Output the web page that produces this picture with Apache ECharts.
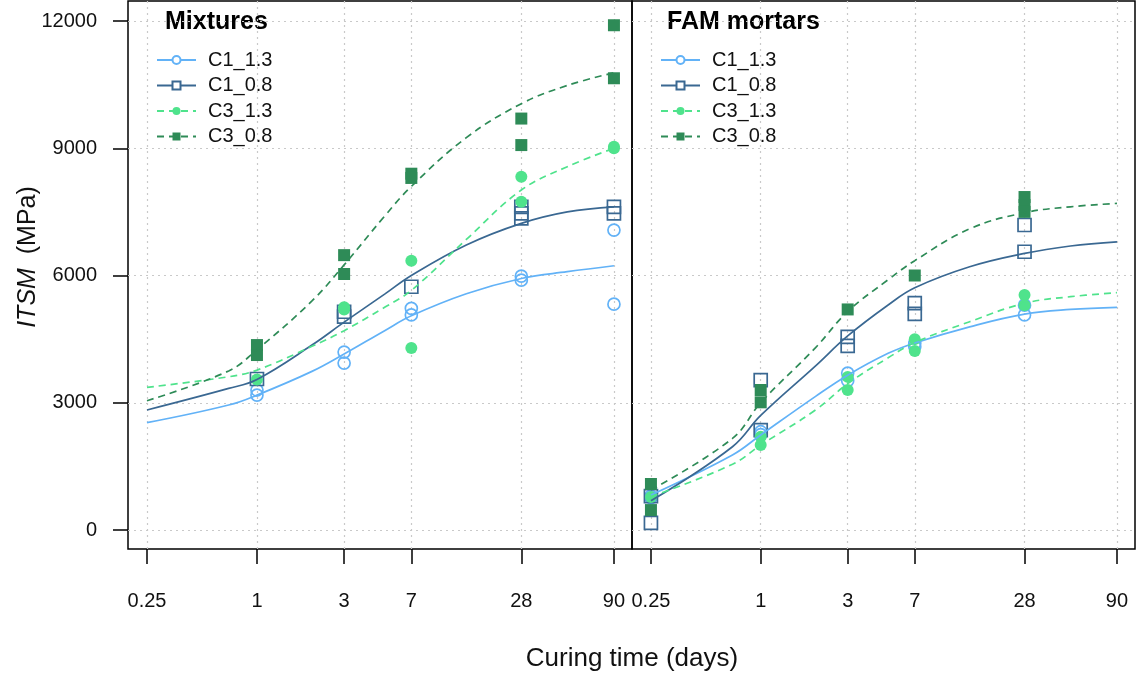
<!DOCTYPE html>
<html><head><meta charset="utf-8">
<script src="https://cdn.jsdelivr.net/npm/echarts@6/dist/echarts.min.js"></script>
<style>html,body{margin:0;padding:0;background:#fff}#c{width:1136px;height:674px}</style>
</head><body><div id="c"></div>
<script>
// ---- data ----
const tickDays = [0.25, 1, 3, 7, 28, 90];
const tickLabels = ['0.25', '1', '3', '7', '28', '90'];
const yTicks = [0, 3000, 6000, 9000, 12000];
const seriesNames = ['C1_1.3', 'C1_0.8', 'C3_1.3', 'C3_0.8'];
const panelTitles = ['Mixtures', 'FAM mortars'];

// fitted curves, read at these curing times
const fitDays = [0.25, 0.7, 1, 2, 3, 5, 7, 14, 28, 50, 90];
const mixFitC1_13 = [2530, 2946, 3180, 3740, 4150, 4700, 5050, 5570, 5930, 6090, 6230];
const mixFitC1_08 = [2830, 3338, 3550, 4360, 4900, 5560, 6000, 6720, 7230, 7500, 7620];
const mixFitC3_13 = [3363, 3613, 3770, 4330, 4700, 5250, 5650, 6850, 8015, 8565, 9000];
const mixFitC3_08 = [3048, 3750, 4250, 5400, 6250, 7400, 8100, 9250, 10050, 10480, 10780];
const famFitC1_13 = [825, 1768, 2240, 3150, 3650, 4165, 4410, 4790, 5090, 5200, 5250];
const famFitC1_08 = [690, 1963, 2700, 3870, 4575, 5305, 5710, 6205, 6520, 6695, 6795];
const famFitC3_13 = [785, 1550, 2003, 2830, 3450, 4060, 4420, 4910, 5345, 5500, 5595];
const famFitC3_08 = [943, 2160, 3000, 4300, 5150, 5900, 6350, 7100, 7480, 7620, 7700];

// measured points [days, ITSM]
const mixPtsC1_13 = [[1,3300],[1,3180],[3,4195],[3,3936],[7,5225],[7,5070],[28,5985],[28,5890],[90,7070],[90,5325]];
const mixPtsC1_08 = [[1,3560],[3,5145],[3,5030],[7,5735],[28,7620],[28,7465],[28,7345],[90,7620],[90,7465]];
const mixPtsC3_13 = [[1,3550],[3,5250],[3,5200],[7,6350],[7,4290],[28,8330],[28,7740],[90,9035],[90,9000]];
const mixPtsC3_08 = [[1,4360],[1,4125],[3,6480],[3,6035],[7,8400],[7,8300],[28,9700],[28,9075],[90,11900],[90,10650]];
const famPtsC1_13 = [[0.25,800],[0.25,760],[1,2317],[1,2250],[3,3700],[3,3520],[7,4400],[7,4320],[28,5300],[28,5070]];
const famPtsC1_08 = [[0.25,800],[0.25,170],[1,3535],[1,2357],[3,4555],[3,4340],[7,5350],[7,5095],[28,7190],[28,6560]];
const famPtsC3_13 = [[0.25,780],[1,2200],[1,2003],[3,3610],[3,3300],[7,4500],[7,4220],[28,5540],[28,5300]];
const famPtsC3_08 = [[0.25,1085],[0.25,470],[1,3300],[1,3010],[3,5200],[7,6000],[28,7850],[28,7660],[28,7500]];

// ---- styles ----
const FONT = '"Liberation Sans", Arial, sans-serif';
const styles = {
  'C1_1.3': {color:'#62B2F7', dash:'solid', sym:'circle', legendSym:'emptyCircle', open:true, size:12},
  'C1_0.8': {color:'#3A6892', dash:'solid', sym:'rect', legendSym:'emptyRect', open:true, size:13},
  'C3_1.3': {color:'#4FE38C', dash:[7,5], sym:'circle', legendSym:'circle', open:false, size:12},
  'C3_0.8': {color:'#2E8B57', dash:[7,5], sym:'rect', legendSym:'rect', open:false, size:12}
};
const fits = [[mixFitC1_13, mixFitC1_08, mixFitC3_13, mixFitC3_08],
              [famFitC1_13, famFitC1_08, famFitC3_13, famFitC3_08]];
const pts = [[mixPtsC1_13, mixPtsC1_08, mixPtsC3_13, mixPtsC3_08],
             [famPtsC1_13, famPtsC1_08, famPtsC3_13, famPtsC3_08]];

const series = [];
[0,1].forEach(g => {
  seriesNames.forEach((n, k) => {
    const st = styles[n];
    series.push({
      type:'scatter', name: n + ' obs', xAxisIndex:g, yAxisIndex:g,
      data: pts[g][k], symbol: st.sym, symbolSize: st.size, z:2, silent:true,
      itemStyle: st.open ? {color:'rgba(255,255,255,0)', borderColor:st.color, borderWidth:1.7, opacity:1}
                         : {color:st.color, opacity:1}
    });
  });
  seriesNames.forEach((n, k) => {
    const st = styles[n];
    series.push({
      type:'line', name:n, xAxisIndex:g, yAxisIndex:g,
      data: fitDays.map((d, i) => [d, fits[g][k][i]]),
      smooth:0.4, showSymbol:false, symbol:st.legendSym, symbolSize:9, z:3, silent:true,
      lineStyle:{color:st.color, width:1.7, type:st.dash},
      itemStyle:{color:st.color}
    });
  });
});

const splitLine = {show:true, lineStyle:{color:'#c9c9c9', width:1.2, type:[2,4]}};
function labelOf(v){
  let best = 0, bd = Infinity;
  tickDays.forEach((d, i) => { const dd = Math.abs(Math.log10(d) - Math.log10(v)); if (dd < bd) { bd = dd; best = i; } });
  return tickLabels[best];
}
const xAxes = [0,1].map(g => ({
  type:'log', logBase:10, gridIndex:g, min:0.1968, max:113,
  axisLine:{show:false, onZero:false},
  axisTick:{show:true, inside:false, customValues:tickDays, length:15, lineStyle:{color:'#000', width:1.5}},
  axisLabel:{show:true, customValues:tickDays, formatter:labelOf, margin:42, fontSize:20, fontFamily:FONT, color:'#111'},
  splitLine: splitLine
}));
const yAxes = [0,1].map(g => ({
  type:'value', gridIndex:g, min:-447.9, max:12471.5,
  axisLine:{show:false, onZero:false},
  axisTick:{show:g===0, inside:false, customValues:yTicks, length:15, lineStyle:{color:'#000', width:1.5}},
  axisLabel:{show:g===0, customValues:yTicks, formatter: v => String(Math.round(v)), margin:31, fontSize:20, fontFamily:FONT, color:'#111'},
  splitLine: splitLine
}));

const legendBase = {
  orient:'vertical', top:45, itemWidth:39, itemHeight:10, itemGap:5.5, selectedMode:false,
  data: seriesNames,
  textStyle:{fontSize:20, fontFamily:FONT, color:'#111', lineHeight:19, padding:[0,0,0,7]}
};

const option = {
  animation:false,
  backgroundColor:'#fff',
  grid:[
    {left:128, top:1, width:504, height:548, show:true, borderColor:'#000', borderWidth:1.5, backgroundColor:'rgba(0,0,0,0)'},
    {left:632, top:1, width:503, height:548, show:true, borderColor:'#000', borderWidth:1.5, backgroundColor:'rgba(0,0,0,0)'}
  ],
  xAxis: xAxes,
  yAxis: yAxes,
  legend:[Object.assign({left:151}, legendBase), Object.assign({left:655}, legendBase)],
  graphic:[
    {type:'text', x:165, y:22, style:{text:panelTitles[0], font:'bold 25px ' + FONT, fill:'#000', align:'left', verticalAlign:'middle'}},
    {type:'text', x:667, y:22, style:{text:panelTitles[1], font:'bold 25px ' + FONT, fill:'#000', align:'left', verticalAlign:'middle'}},
    {type:'text', x:632, y:659, style:{text:'Curing time (days)', font:'26px ' + FONT, fill:'#111', align:'center', verticalAlign:'middle'}},
    {type:'text', x:28, y:257, rotation:Math.PI/2,
     style:{text:'{i|ITSM}  (MPa)', font:'25px ' + FONT, fill:'#111', align:'center', verticalAlign:'middle',
            rich:{i:{fontStyle:'italic', fontSize:25, fontFamily:FONT, fill:'#111'}}}}
  ],
  series: series
};
const chart = echarts.init(document.getElementById('c'), null, {renderer:'canvas'});
chart.setOption(option);
</script></body></html>
